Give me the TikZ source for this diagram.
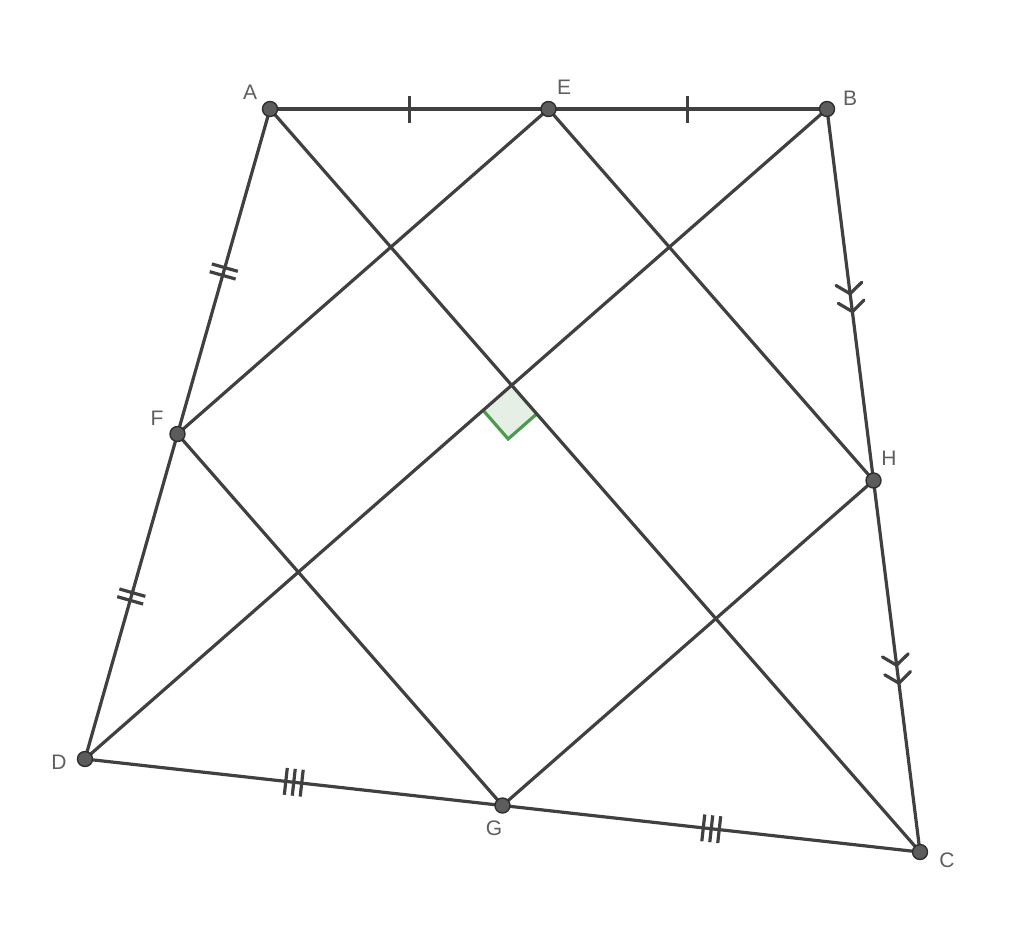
\documentclass[tikz,border=0pt]{standalone}
\usepackage{fontspec}
\setmainfont{Liberation Sans}
\usetikzlibrary{calc}
\definecolor{seg}{HTML}{404040}
\definecolor{ptfill}{HTML}{5C5C5C}
\definecolor{ptline}{HTML}{2E2E2E}
\definecolor{lbl}{HTML}{5E5E5E}
\definecolor{angfill}{HTML}{E6EFE6}
\definecolor{angline}{HTML}{4C9A4C}
\tikzset{
  segline/.style={draw=seg, line width=3.2pt, line cap=round},
  tickline/.style={draw=seg, line width=3.2pt},
  ptdot/.style={fill=ptfill, draw=ptline, line width=1.4pt},
  ptlabel/.style={text=lbl, font=\fontsize{21}{25}\selectfont, inner sep=0pt},
  anglemark/.style={draw=angline, line width=3.2pt, line join=miter},
}
\begin{document}
\begin{tikzpicture}[x=1pt,y=-1pt]
\useasboundingbox (0,0) rectangle (1024,926);
\coordinate (A) at (270,109);
\coordinate (B) at (827,109);
\coordinate (C) at (920,852);
\coordinate (D) at (85,759);
\coordinate (E) at ($(A)!0.5!(B)$);
\coordinate (F) at ($(A)!0.5!(D)$);
\coordinate (G) at ($(D)!0.5!(C)$);
\coordinate (H) at ($(B)!0.5!(C)$);
\coordinate (P) at (intersection of A--C and B--D);
\coordinate (Q1) at ($(P)!38pt!(D)$);
\coordinate (Q2) at ($(P)!38pt!(C)$);
\coordinate (Q3) at ($(Q1)+(Q2)-(P)$);
% right angle mark
\fill[angfill] (P) -- (Q1) -- (Q3) -- (Q2) -- cycle;
\draw[anglemark] (Q1) -- (Q3) -- (Q2);
% segments
\draw[segline] (A) -- (B);
\draw[segline] (B) -- (C);
\draw[segline] (C) -- (D);
\draw[segline] (D) -- (A);
\draw[segline] (A) -- (C);
\draw[segline] (B) -- (D);
\draw[segline] (E) -- (F);
\draw[segline] (F) -- (G);
\draw[segline] (G) -- (H);
\draw[segline] (H) -- (E);
% single ticks on AE, EB
\foreach \X/\Y in {A/E,E/B}{
  \coordinate (m) at ($(\X)!0.5!(\Y)$);
  \draw[tickline] ($(m)!13.5pt!90:(\Y)$) -- ($(m)!13.5pt!-90:(\Y)$);
}
% double ticks on AF, FD
\foreach \X/\Y in {A/F,F/D}{
  \coordinate (m) at ($(\X)!0.5!(\Y)$);
  \foreach \d in {-4,4}{
    \coordinate (n) at ($(m)!\d pt!(\Y)$);
    \draw[tickline] ($(n)!13.5pt!90:(\Y)$) -- ($(n)!13.5pt!-90:(\Y)$);
  }
}
% triple ticks on DG, GC
\foreach \X/\Y in {D/G,G/C}{
  \coordinate (m) at ($(\X)!0.5!(\Y)$);
  \foreach \d in {-8,0,8}{
    \coordinate (n) at ($(m)!\d pt!(\Y)$);
    \draw[tickline] ($(n)!13.5pt!90:(\Y)$) -- ($(n)!13.5pt!-90:(\Y)$);
  }
}
% double arrows on BH, HC
\foreach \X/\Y in {B/H,H/C}{
  \coordinate (m) at ($(\X)!0.5!(\Y)$);
  \foreach \d in {-1,17}{
    \coordinate (t) at ($(m)!\d pt!(\Y)$);
    \coordinate (bk) at ($(t)!10pt!(\X)$);
    \draw[tickline, line join=round, line cap=round] ($(bk)!13pt!90:(t)$) -- (t) -- ($(bk)!13pt!-90:(t)$);
  }
}
% points
\foreach \p in {A,B,C,D,E,F,G,H}{
  \draw[ptdot] (\p) circle (7.5pt);
}
% labels
\node[ptlabel] (lA) at (250,92) {A};
\node[ptlabel] (lE) at (564,87) {E};
\node[ptlabel] (lB) at (850,98) {B};
\node[ptlabel] (lH) at (889,458) {H};
\node[ptlabel] (lC) at (947,860) {C};
\node[ptlabel] (lG) at (494,828) {G};
\node[ptlabel] (lD) at (59,762) {D};
\node[ptlabel] (lF) at (157,418) {F};
\end{tikzpicture}
\end{document}
